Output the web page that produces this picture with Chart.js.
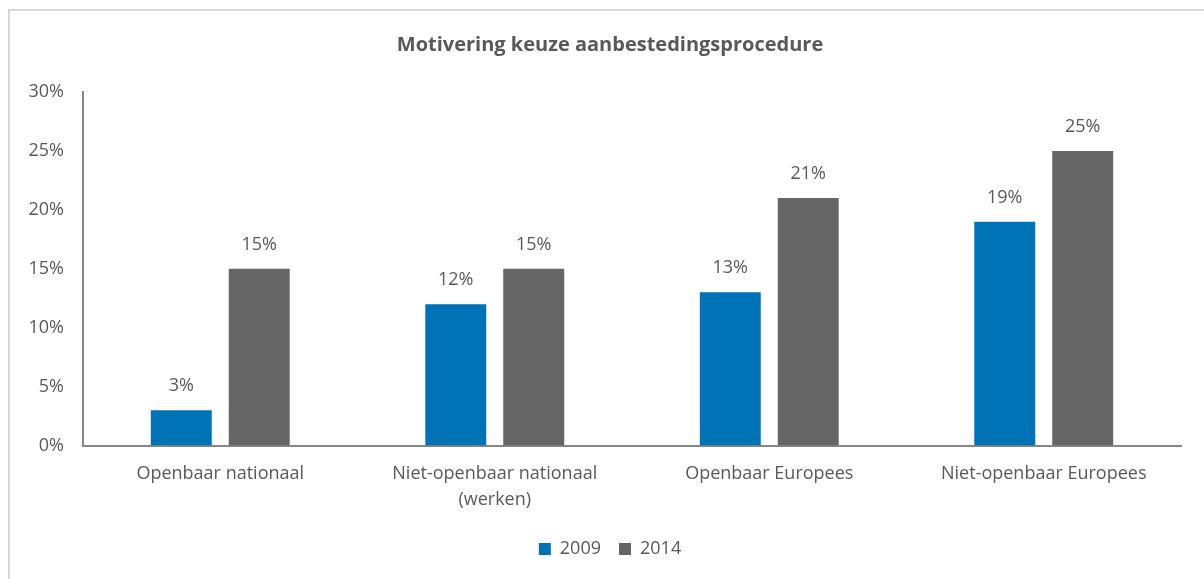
<!DOCTYPE html>
<html>
<head>
<meta charset="utf-8">
<script src="https://cdn.jsdelivr.net/npm/chart.js@4"></script>
<style>
  html, body { margin: 0; padding: 0; background: #fff; overflow: hidden; }
  .frame { position: absolute; left: 8px; top: 9px; width: 1400px; height: 800px; border: 2px solid #d9d9d9; }
  .wrap { position: absolute; left: 0; top: 0; width: 1204px; height: 579px; }
</style>
</head>
<body>
<div class="frame"></div>
<div class="wrap"><canvas id="chart"></canvas></div>
<script>
// chart data
const categories = [
  "Openbaar nationaal",
  ["Niet-openbaar nationaal", "(werken)"],
  "Openbaar Europees",
  "Niet-openbaar Europees",
];
const values2009 = [3, 12, 13, 19];
const values2014 = [15, 15, 21, 25];
const yMin = 0;
const yMax = 30;
const yStep = 5;

const textColor = "#595959";
const fontFamily = "'Open Sans', sans-serif";

// draws the value above each bar
const valueLabels = {
  id: "valueLabels",
  afterDatasetsDraw(chart) {
    const ctx = chart.ctx;
    ctx.save();
    ctx.font = "18px " + fontFamily;
    ctx.fillStyle = textColor;
    ctx.textAlign = "center";
    ctx.textBaseline = "middle";
    chart.data.datasets.forEach((ds, i) => {
      chart.getDatasetMeta(i).data.forEach((bar, j) => {
        ctx.fillText(ds.data[j] + "%", bar.x, bar.y - 24);
      });
    });
    ctx.restore();
  },
};

const renderChart = () => {
  const canvas = document.getElementById("chart");

  new Chart(canvas, {
    type: "bar",
    data: {
      labels: categories,
      datasets: [
        {
          label: "2009",
          data: values2009,
          backgroundColor: "#0072b6",
          barPercentage: 0.782,
          categoryPercentage: 0.568,
        },
        {
          label: "2014",
          data: values2014,
          backgroundColor: "#666666",
          barPercentage: 0.782,
          categoryPercentage: 0.568,
        },
      ],
    },
    options: {
      responsive: true,
      maintainAspectRatio: false,
      animation: false,
      layout: {
        padding: { top: 33, left: 19, right: 3, bottom: 11 },
      },
      plugins: {
        title: {
          display: true,
          text: "Motivering keuze aanbestedingsprocedure",
          color: textColor,
          font: { family: fontFamily, size: 20, weight: "bold" },
          padding: { top: 0, bottom: 35 },
        },
        legend: {
          position: "bottom",
          labels: {
            color: textColor,
            font: { family: fontFamily, size: 18 },
            boxWidth: 12,
            boxHeight: 12,
            padding: 18,
          },
        },
        tooltip: { enabled: false },
      },
      scales: {
        x: {
          grid: { display: false },
          border: { display: true, color: "#868686", width: 2 },
          ticks: {
            color: textColor,
            font: { family: fontFamily, size: 18, lineHeight: 1.4 },
            padding: 8,
            maxRotation: 0,
          },
          afterFit: (scale) => { scale.height += 2; },
        },
        y: {
          min: yMin,
          max: yMax,
          grid: { display: false },
          border: { display: true, color: "#868686", width: 2 },
          ticks: {
            stepSize: yStep,
            color: textColor,
            font: { family: fontFamily, size: 18 },
            padding: 11,
            callback: (v) => v + "%",
          },
          afterFit: (scale) => { scale.width = 64; },
        },
        // empty right-hand spacer so the title sits where it does in the original
        spacer: {
          position: "right",
          min: 0,
          max: 1,
          grid: { display: false },
          border: { display: false },
          ticks: { display: false },
          afterFit: (scale) => { scale.width = 20; },
        },
      },
    },
    plugins: [valueLabels],
  });
};

window.addEventListener("load", renderChart);
</script>
</body>
</html>
